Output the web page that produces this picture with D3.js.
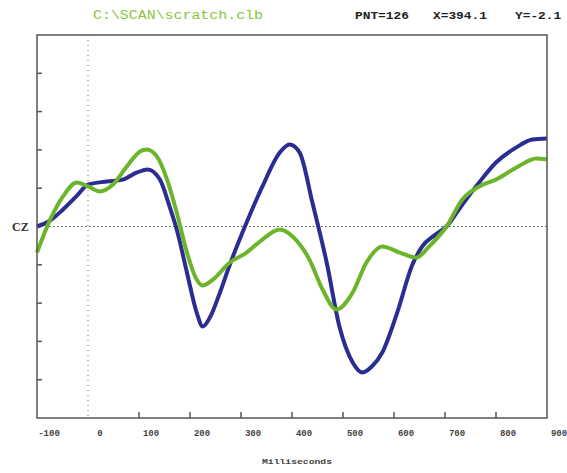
<!DOCTYPE html>
<html>
<head>
<meta charset="utf-8">
<script src="https://cdn.jsdelivr.net/npm/d3@7"></script>
<style>
  body { margin: 0; background: #fff; }
  svg { display: block; }
</style>
</head>
<body>
<script>
// time in ms, amplitude in uV
let msBlue = [-100, -75, -49, -22, 0, 37, 68, 96, 117, 141, 160, 174, 194, 213, 225, 240, 258, 278, 311, 342, 376, 395, 415, 440, 468, 493, 519, 538, 557, 577, 605, 636, 655, 680, 703, 734, 767, 800, 840, 871, 900]
let blue = [0, 0.3, 0.89, 1.6, 2.19, 2.35, 2.45, 2.82, 2.98, 2.45, 1.04, -0.16, -2.4, -4.49, -5.22, -4.7, -3.5, -2.0, 0.21, 2.09, 3.86, 4.28, 3.86, 1.25, -1.88, -5.22, -7.1, -7.62, -7.3, -6.58, -4.6, -2.0, -1.05, -0.45, 0, 1.15, 2.3, 3.34, 4.13, 4.54, 4.6]

let msGreen = [-100, -74, -49, -22, 0, 23, 49, 76, 102, 115, 135, 155, 174, 194, 213, 225, 245, 278, 311, 342, 376, 401, 434, 460, 487, 519, 546, 577, 611, 644, 669, 703, 734, 767, 800, 840, 879, 900]
let green = [-1.36, 0.37, 1.57, 2.3, 2.09, 1.83, 2.19, 3.13, 3.92, 4.02, 3.66, 2.45, 0.73, -1.36, -2.77, -3.08, -2.77, -1.88, -1.36, -0.68, -0.16, -0.52, -1.72, -3.29, -4.33, -3.45, -1.88, -1.04, -1.36, -1.62, -1.04, 0, 1.41, 2.09, 2.45, 3.08, 3.55, 3.5]

let xTicks = [-100, 0, 100, 200, 300, 400, 500, 600, 700, 800, 900]
let yTicks = [-8, -6, -4, -2, 2, 4, 6, 8]

let svg = d3.select('body').append('svg')
    .attr('width', 567)
    .attr('height', 473)

let x = d3.scaleLinear().domain([-100, 900]).range([37, 547])
let y = d3.scaleLinear().domain([-10, 10]).range([418, 35])

// header
svg.append('text')
    .attr('x', 93).attr('y', 19)
    .attr('textLength', 170).attr('lengthAdjust', 'spacingAndGlyphs')
    .style('font-family', 'Liberation Mono, monospace')
    .style('font-size', '12px')
    .style('fill', '#8cc43c')
    .text('C:\\SCAN\\scratch.clb')

let header = [['PNT=126', 355], ['X=394.1', 433], ['Y=-2.1', 515]]
svg.selectAll('.hdr').data(header).enter().append('text')
    .attr('class', 'hdr')
    .attr('x', d => d[1]).attr('y', 19)
    .attr('textLength', d => d[0].length * 7.7).attr('lengthAdjust', 'spacingAndGlyphs')
    .style('font-family', 'Liberation Mono, monospace')
    .style('font-size', '11px')
    .style('font-weight', 'bold')
    .style('fill', '#222')
    .text(d => d[0])

// dotted zero lines
svg.append('line')
    .attr('x1', x(0)).attr('x2', x(0))
    .attr('y1', y(10)).attr('y2', y(-10))
    .attr('stroke', '#666').attr('stroke-width', 1)
    .attr('stroke-dasharray', '1,4')
svg.append('line')
    .attr('x1', x(-100)).attr('x2', x(900))
    .attr('y1', y(0)).attr('y2', y(0))
    .attr('stroke', '#555').attr('stroke-width', 1.2)
    .attr('stroke-dasharray', '1.5,2.5')

// y ticks on the inside of the left edge
svg.selectAll('.yt').data(yTicks).enter().append('line')
    .attr('x1', x(-100)).attr('x2', x(-100) + 5)
    .attr('y1', d => y(d)).attr('y2', d => y(d))
    .attr('stroke', '#555').attr('stroke-width', 1.5)

// x ticks on the inside of the bottom edge
svg.selectAll('.xt').data(xTicks.filter(d => d > 0 && d < 900)).enter().append('line')
    .attr('x1', d => x(d)).attr('x2', d => x(d))
    .attr('y1', y(-10)).attr('y2', y(-10) - 6)
    .attr('stroke', '#555').attr('stroke-width', 1.5)

svg.selectAll('.xl').data(xTicks).enter().append('text')
    .attr('x', d => x(d) + 12).attr('y', 436)
    .attr('text-anchor', 'middle')
    .style('font-family', 'Liberation Mono, monospace')
    .style('font-size', '9px')
    .style('font-weight', 'bold')
    .style('fill', '#444')
    .text(d => d)

svg.append('text')
    .attr('x', 297).attr('y', 464)
    .attr('text-anchor', 'middle')
    .attr('textLength', 70).attr('lengthAdjust', 'spacingAndGlyphs')
    .style('font-family', 'Liberation Mono, monospace')
    .style('font-size', '8px')
    .style('font-weight', 'bold')
    .style('fill', '#444')
    .text('Milliseconds')

svg.append('text')
    .attr('x', 12).attr('y', y(0) + 4)
    .style('font-family', 'Liberation Serif, serif')
    .style('font-size', '12px')
    .style('font-weight', 'bold')
    .style('fill', '#333')
    .text('CZ')

let lineB = d3.line()
    .x((d, i) => x(msBlue[i]))
    .y(d => y(d))
    .curve(d3.curveMonotoneX)
let lineG = d3.line()
    .x((d, i) => x(msGreen[i]))
    .y(d => y(d))
    .curve(d3.curveMonotoneX)

svg.append('path')
    .attr('d', lineB(blue))
    .attr('fill', 'none')
    .attr('stroke', '#2a2d92')
    .attr('stroke-width', 4)
    .attr('stroke-linejoin', 'round')

svg.append('path')
    .attr('d', lineG(green))
    .attr('fill', 'none')
    .attr('stroke', '#6cb52a')
    .attr('stroke-width', 4)
    .attr('stroke-linejoin', 'round')

// frame
svg.append('rect')
    .attr('x', x(-100)).attr('y', y(10))
    .attr('width', x(900) - x(-100)).attr('height', y(-10) - y(10))
    .attr('fill', 'none')
    .attr('stroke', '#555').attr('stroke-width', 1.5)
</script>
</body>
</html>
